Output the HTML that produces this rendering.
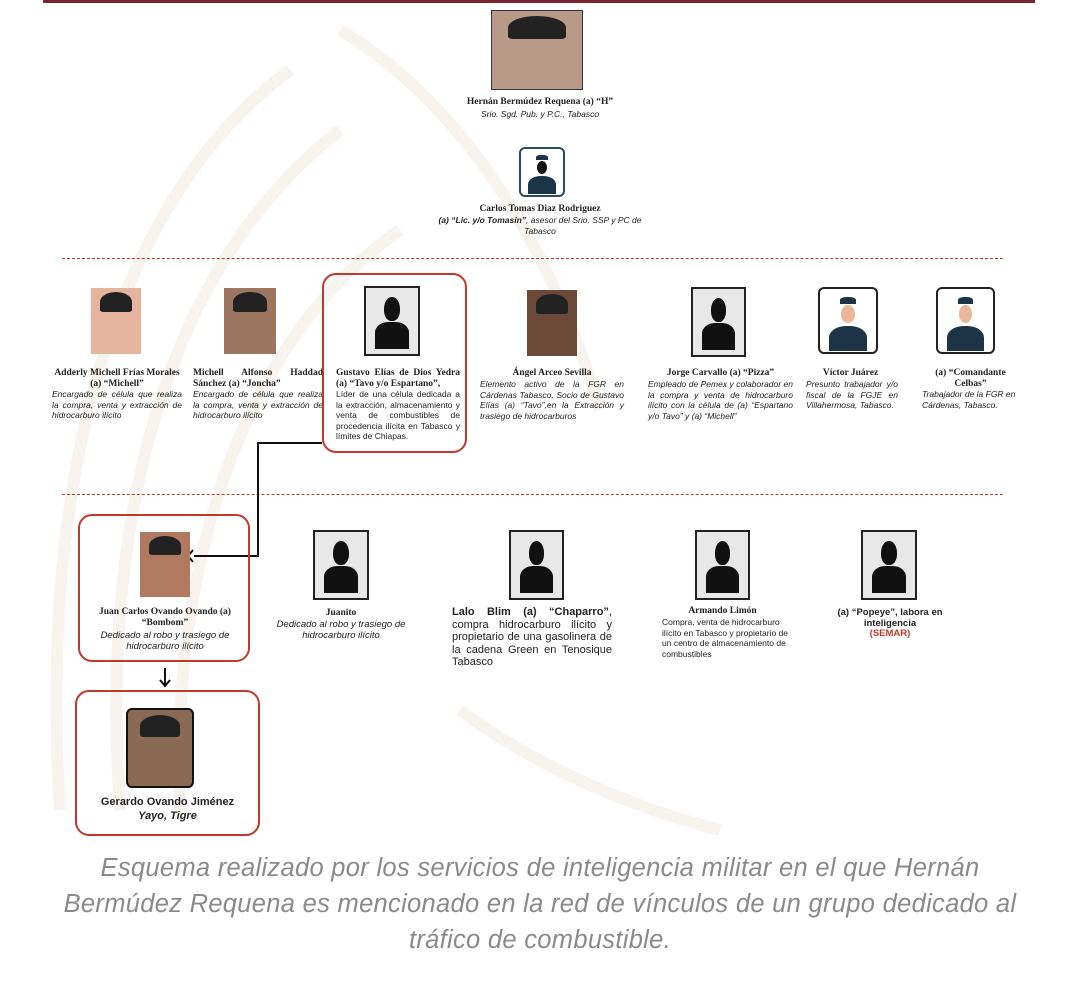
<!DOCTYPE html>
<html><head><meta charset="utf-8"><style>
body{margin:0;width:1080px;height:988px;background:#fff;position:relative;font-family:"Liberation Sans",sans-serif;overflow:hidden}
.a{position:absolute}
.t{position:absolute;font-size:8.5px;line-height:10.5px;color:#222}
.b{font-weight:bold;font-family:"Liberation Serif",serif;font-size:9.5px}
.i{font-style:italic}
.c{text-align:center}
.j{text-align:justify;text-align-last:left}
.sil{position:absolute;background:#e8e8e8;border:2px solid #222;box-sizing:border-box;overflow:hidden}
.sil:before{content:"";position:absolute;left:35%;top:14%;width:30%;height:36%;background:#111;border-radius:50% 50% 45% 45%}
.sil:after{content:"";position:absolute;left:18%;top:52%;width:64%;height:40%;background:#111;border-radius:40% 40% 0 0}
.ph{position:absolute;background:#c9a68c;overflow:hidden}
.ph:before{content:"";position:absolute;left:18%;top:6%;width:64%;height:30%;background:#222;border-radius:50% 50% 10% 10%}
.pol{position:absolute;border:2px solid #222;border-radius:6px;background:#fff;box-sizing:border-box;overflow:hidden}
.pol:before{content:"";position:absolute;left:36%;top:12%;width:28%;height:12%;background:#1d3447;border-radius:40% 40% 0 0}
.pol:after{content:"";position:absolute;left:16%;top:58%;width:68%;height:40%;background:#1d3447;border-radius:45% 45% 0 0}
.face{position:absolute;left:38%;top:26%;width:24%;height:28%;background:#e9b79a;border-radius:50%}
.box{position:absolute;border:2px solid #c0392b;border-radius:14px;box-sizing:border-box}
.dash{position:absolute;left:62px;width:941px;border-top:1.5px dashed #c0392b}
</style></head><body>
<div class="a" style="left:43px;top:0;width:992px;height:3px;background:#7a2630"></div>
<svg class="a" style="left:40px;top:10px" width="700" height="830"><g fill="none" stroke="#f7f3ef" stroke-width="12"><path d="M20 800 C 0 500 60 200 250 60"/><path d="M80 800 C 60 520 120 260 300 120"/><path d="M140 800 C 130 560 200 330 360 220"/><path d="M300 20 C 400 80 500 200 560 400"/><path d="M420 700 C 500 760 600 800 680 820"/></g></svg>

<div class="ph" style="left:491px;top:10px;width:92px;height:80px;background:#b89a88;border:1.5px solid #333;box-sizing:border-box"></div>
<div class="t c b" style="left:400px;top:97px;width:280px">Hernán Bermúdez Requena (a) “H”</div>
<div class="t c i" style="left:400px;top:109px;width:280px">Srio. Sgd. Pub. y P.C., Tabasco</div>

<div class="pol" style="left:519px;top:147px;width:46px;height:50px;background:#fff;border-color:#2a4a6a"><div class="face" style="background:#111"></div></div>
<div class="t c b" style="left:400px;top:204px;width:280px">Carlos Tomas Diaz Rodriguez</div>
<div class="t c" style="left:425px;top:215px;width:230px"><b class="i">(a) “Lic. y/o Tomasin”</b><i>, asesor del Srio. SSP y PC de Tabasco</i></div>

<div class="dash" style="top:258px"></div>
<div class="dash" style="top:494px"></div>

<div class="ph" style="left:91px;top:288px;width:50px;height:66px;background:#e4b49c"></div>
<div class="t c b" style="left:52px;top:368px;width:130px">Adderly Michell Frías Morales (a) “Michell”</div>
<div class="t j i" style="left:52px;top:389px;width:130px">Encargado de célula que realiza la compra, venta y extracción de hidrocarburo ilícito</div>

<div class="ph" style="left:224px;top:288px;width:52px;height:66px;background:#9c7660"></div>
<div class="t j b" style="left:193px;top:368px;width:130px">Michell Alfonso Haddad Sánchez (a) “Joncha”</div>
<div class="t j i" style="left:193px;top:389px;width:130px">Encargado de célula que realiza la compra, venta y extracción de hidrocarburo ilícito</div>

<div class="box" style="left:322px;top:273px;width:145px;height:180px"></div>
<div class="sil" style="left:364px;top:286px;width:56px;height:70px"></div>
<div class="t j b" style="left:336px;top:368px;width:124px">Gustavo Elías de Dios Yedra (a) “Tavo y/o Espartano”,</div>
<div class="t j" style="left:336px;top:389px;width:124px">Líder de una célula dedicada a la extracción, almacenamiento y venta de combustibles de procedencia ilícita en Tabasco y límites de Chiapas.</div>

<div class="ph" style="left:527px;top:290px;width:50px;height:66px;background:#6b4a3a"></div>
<div class="t c b" style="left:480px;top:368px;width:144px">Ángel Arceo Sevilla</div>
<div class="t j i" style="left:480px;top:379px;width:144px">Elemento activo de la FGR en Cárdenas Tabasco, Socio de Gustavo Elías (a) “Tavo”,en la Extracción y trasiego de hidrocarburos</div>

<div class="sil" style="left:691px;top:287px;width:55px;height:70px"></div>
<div class="t c b" style="left:648px;top:368px;width:145px">Jorge Carvallo (a) “Pizza”</div>
<div class="t j i" style="left:648px;top:379px;width:145px">Empleado de Pemex y colaborador en la compra y venta de hidrocarburo ilícito con la célula de (a) “Espartano y/o Tavo” y (a) “Michell”</div>

<div class="pol" style="left:818px;top:287px;width:60px;height:67px"><div class="face"></div></div>
<div class="t c b" style="left:803px;top:368px;width:95px">Víctor Juárez</div>
<div class="t j i" style="left:806px;top:379px;width:92px">Presunto trabajador y/o fiscal de la FGJE en Villahermosa, Tabasco.</div>

<div class="pol" style="left:936px;top:287px;width:59px;height:67px"><div class="face"></div></div>
<div class="t c b" style="left:918px;top:368px;width:105px">(a) “Comandante Celbas”</div>
<div class="t i" style="left:922px;top:389px;width:105px">Trabajador de la FGR en Cárdenas, Tabasco.</div>

<svg class="a" style="left:0;top:0" width="1080" height="988"><g stroke="#111" stroke-width="2" fill="none"><path d="M322 443 H258 V556 H194"/><path d="M193 550 L188 556 L193 562"/><path d="M165 668 V685"/><path d="M160 680 L165 686 L170 680"/></g></svg>

<div class="box" style="left:78px;top:514px;width:172px;height:148px"></div>
<div class="ph" style="left:140px;top:532px;width:50px;height:65px;background:#b07a60"></div>
<div class="t c b" style="left:84px;top:607px;width:162px">Juan Carlos Ovando Ovando (a) “Bombom”</div>
<div class="t c i" style="left:84px;top:631px;width:162px;font-size:9.5px">Dedicado al robo y trasiego de hidrocarburo ilícito</div>

<div class="sil" style="left:313px;top:530px;width:56px;height:70px"></div>
<div class="t c b" style="left:266px;top:608px;width:150px">Juanito</div>
<div class="t c i" style="left:266px;top:620px;width:150px;font-size:9.5px">Dedicado al robo y trasiego de hidrocarburo ilícito</div>

<div class="sil" style="left:509px;top:530px;width:55px;height:70px"></div>
<div class="t j" style="left:452px;top:606px;width:160px;font-size:11px;line-height:12.5px"><b>Lalo Blim (a) “Chaparro”</b>, compra hidrocarburo ilícito y propietario de una gasolinera de la cadena Green en Tenosique Tabasco</div>

<div class="sil" style="left:695px;top:530px;width:55px;height:70px"></div>
<div class="t c b" style="left:650px;top:606px;width:145px">Armando Limón</div>
<div class="t" style="left:662px;top:617px;width:135px">Compra, venta de hidrocarburo ilícito en Tabasco y propietario de un centro de almacenamiento de combustibles</div>

<div class="sil" style="left:861px;top:530px;width:56px;height:70px"></div>
<div class="t c" style="left:820px;top:608px;width:140px;font-weight:bold;font-size:9.5px">(a) “Popeye”, labora en inteligencia<br><span style="color:#c0392b">(SEMAR)</span></div>

<div class="box" style="left:75px;top:690px;width:185px;height:146px"></div>
<div class="ph" style="left:126px;top:708px;width:68px;height:80px;background:#8a6a55;border:2px solid #111;border-radius:6px;box-sizing:border-box"></div>
<div class="t c" style="left:80px;top:795px;width:175px;font-size:11px;line-height:14px;font-weight:bold">Gerardo Ovando Jiménez<br><i>Yayo, Tigre</i></div>

<div class="a c i" style="left:0;top:850px;width:1080px;font-size:25.5px;letter-spacing:0.3px;line-height:36px;color:#8a8a8a;text-align:center">Esquema realizado por los servicios de inteligencia militar en el que Hernán<br>Bermúdez Requena es mencionado en la red de vínculos de un grupo dedicado al<br>tráfico de combustible.</div>
</body></html>
